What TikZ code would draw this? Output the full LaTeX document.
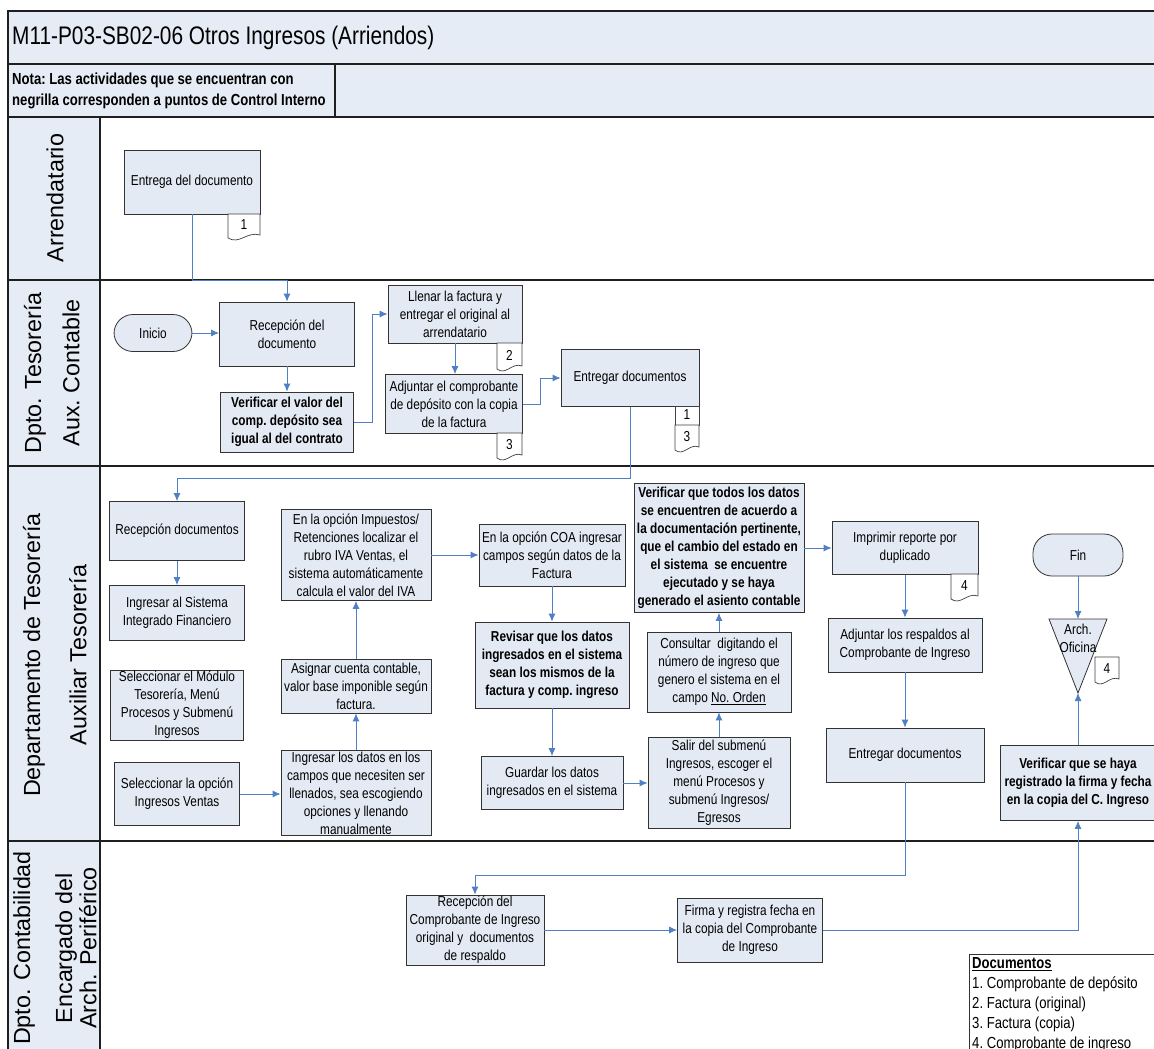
\documentclass[tikz,border=0pt]{standalone}
\usepackage{fontspec}
\setmainfont{Liberation Sans}
\newfontfamily\narrowfont{Liberation Sans}[FakeStretch=0.82]
\usetikzlibrary{arrows.meta}

\definecolor{bandfill}{HTML}{E6ECF5}
\definecolor{boxfill}{HTML}{E4EAF4}
\definecolor{flowblue}{HTML}{4F7FC4}
\definecolor{rulecol}{HTML}{1F1F1F}

\tikzset{
  lane/.style={draw=rulecol, line width=1.4pt},
  box/.style={draw=black!80, fill=boxfill, line width=0.8pt, align=center, inner sep=1pt,
    font=\narrowfont\frenchspacing\fontsize{14.4}{18}\selectfont},
  boldbox/.style={box, font=\narrowfont\frenchspacing\bfseries\fontsize{14.4}{18}\selectfont},
  terminal/.style={box, rounded corners=19pt},
  flow/.style={draw=flowblue, line width=0.9pt, -{Latex[length=8pt,width=7pt]}},
  tagshape/.style={draw=black!75, fill=white, line width=0.7pt},
  taglabel/.style={font=\narrowfont\fontsize{14.4}{16}\selectfont, inner sep=0pt},
  lanelabel/.style={rotate=90, font=\fontsize{23.3}{27}\selectfont, inner sep=0pt},
}

% document tag with a wavy lower edge: name, x1, y1, x2, y2, label
\newcommand\doctag[6]{%
  \path[tagshape] (#2,#3) -- (#4,#3) -- (#4,{#5-3})
    .. controls ({#2+0.6*(#4-#2)},{#5-7}) and ({#2+0.35*(#4-#2)},{#5+7}) .. (#2,#5) -- cycle;
  \node[taglabel] (#1) at ({(#2+#4)/2},{(#3+#5)/2-1}) {#6};
}

\begin{document}
\begin{tikzpicture}[x=1pt, y=-1pt]
\useasboundingbox (0,0) rectangle (1154,1049);
\clip (0,0) rectangle (1154,1049);

% ---- frame, header bands and swimlanes ----
\fill[white] (0,0) rectangle (1154,1049);
\fill[bandfill] (8,11) rectangle (1170,117);
\fill[bandfill] (8,117) rectangle (100,1070);
\draw[lane] (8,1070) -- (8,11) -- (1170,11);
\draw[lane] (8,64) -- (1170,64);
\draw[lane] (8,117) -- (1170,117);
\draw[lane] (8,280) -- (1170,280);
\draw[lane] (8,466) -- (1170,466);
\draw[lane] (8,841) -- (1170,841);
\draw[lane] (100,117) -- (100,1070);
\draw[lane] (335,64) -- (335,117);

\node[anchor=west, inner sep=0pt, font=\narrowfont\fontsize{25.4}{30}\selectfont] (title) at (12,38)
  {M11-P03-SB02-06 Otros Ingresos (Arriendos)};
\node[anchor=west, align=left, inner sep=0pt, font=\narrowfont\frenchspacing\bfseries\fontsize{16}{21}\selectfont] (nota) at (12,91)
  {Nota: Las actividades que se encuentran con\\negrilla corresponden a puntos de Control Interno};

\node[lanelabel] (lab1) at (55,198) {Arrendatario};
\node[lanelabel] (lab2a) at (35,373) {Dpto. Tesorería};
\node[lanelabel] (lab2b) at (71,373) {Aux.\ Contable};
\node[lanelabel] (lab3a) at (34,655) {Departamento de Tesorería};
\node[lanelabel] (lab3b) at (78,655) {Auxiliar Tesorería};
\node[lanelabel] (lab4a) at (24,948) {Dpto. Contabilidad};
\node[lanelabel] (lab4b) at (66,948) {Encargado del};
\node[lanelabel] (lab4c) at (88,948) {Arch. Periférico};

% ---- Arrendatario ----
\node[box, minimum width=136pt, minimum height=64pt] (ent) at (192,182) {Entrega del documento};
\doctag{t1}{228}{214}{260}{238}{1}

% ---- Aux. Contable ----
\node[terminal, minimum width=78pt, minimum height=37pt] (ini) at (153,333) {Inicio};
\node[box, minimum width=135pt, minimum height=64pt] (rec) at (287,334) {Recepción del\\documento};
\node[boldbox, minimum width=133pt, minimum height=60pt] (ver) at (287,422)
  {Verificar el valor del\\comp. depósito sea\\igual al del contrato};
\node[box, minimum width=134pt, minimum height=58pt] (llen) at (455,314)
  {Llenar la factura y\\entregar el original al\\arrendatario};
\doctag{t2}{497}{343}{522}{369}{2}
\node[box, minimum width=137pt, minimum height=59pt] (adj) at (454,404)
  {Adjuntar el comprobante\\de depósito con la copia\\de la factura};
\doctag{t3}{497}{433}{522}{458}{3}
\node[box, minimum width=138pt, minimum height=57pt] (entd) at (630,378) {Entregar documentos};
\path[tagshape] (675,406) rectangle (699,425);
\node[taglabel] (t1b) at (687,415) {1};
\doctag{t3b}{675}{425}{699}{450}{3}

% ---- Auxiliar Tesorería ----
\node[box, minimum width=135pt, minimum height=59pt] (recd) at (177,531) {Recepción documentos};
\node[box, minimum width=135pt, minimum height=55pt] (ing) at (177,613)
  {Ingresar al Sistema\\Integrado Financiero};
\node[box, minimum width=133pt, minimum height=70pt] (sel) at (177,705)
  {Seleccionar el Módulo\\Tesorería, Menú\\Procesos y Submenú\\Ingresos};
\node[box, minimum width=125pt, minimum height=63pt] (selop) at (177,794)
  {Seleccionar la opción\\Ingresos Ventas};
\node[box, minimum width=150pt, minimum height=91pt] (imp) at (356,555)
  {En la opción Impuestos/\\Retenciones localizar el\\rubro IVA Ventas, el\\sistema automáticamente\\calcula el valor del IVA};
\node[box, minimum width=150pt, minimum height=54pt] (asig) at (356,686)
  {Asignar cuenta contable,\\valor base imponible según\\factura.};
\node[box, minimum width=150pt, minimum height=85pt] (ingd) at (356,793)
  {Ingresar los datos en los\\campos que necesiten ser\\llenados, sea escogiendo\\opciones y llenando\\manualmente};
\node[box, minimum width=146pt, minimum height=62pt] (coa) at (552,555)
  {En la opción COA ingresar\\campos según datos de la\\Factura};
\node[boldbox, minimum width=154pt, minimum height=86pt] (rev) at (552,665)
  {Revisar que los datos\\ingresados en el sistema\\sean los mismos de la\\factura y comp. ingreso};
\node[box, minimum width=142pt, minimum height=53pt] (guar) at (552,783)
  {Guardar los datos\\ingresados en el sistema};
\node[box, minimum width=142pt, minimum height=91pt] (sal) at (719,783)
  {Salir del submenú\\Ingresos, escoger el\\menú Procesos y\\submenú Ingresos/\\Egresos};
\node[box, minimum width=144pt, minimum height=80pt] (cons) at (719,672)
  {Consultar~ digitando el\\número de ingreso que\\genero el sistema en el\\campo \underline{No. Orden}};
\node[boldbox, minimum width=170pt, minimum height=129pt] (vert) at (719,548)
  {Verificar que todos los datos\\se encuentren de acuerdo a\\la documentación pertinente,\\que el cambio del estado en\\el sistema~ se encuentre\\ejecutado y se haya\\generado el asiento contable};
\node[box, minimum width=146pt, minimum height=53pt] (impr) at (905,548)
  {Imprimir reporte por\\duplicado};
\doctag{t4}{951}{574}{978}{599}{4}
\node[box, minimum width=154pt, minimum height=54pt] (adjr) at (905,645)
  {Adjuntar los respaldos al\\Comprobante de Ingreso};
\node[box, minimum width=158pt, minimum height=54pt] (entd2) at (905,755) {Entregar documentos};
\node[terminal, minimum width=90pt, minimum height=42pt] (fin) at (1078,555) {Fin};
\path[draw=black!80, fill=boxfill, line width=0.8pt] (1049,619) -- (1107,619) -- (1078,693) -- cycle;
\coordinate (archtop) at (1078,619);
\coordinate (archbot) at (1078,693);
\node[align=center, inner sep=0pt, font=\narrowfont\fontsize{14.4}{18}\selectfont] (arch) at (1078,638) {Arch.\\Oficina};
\doctag{t4b}{1095}{657}{1119}{682}{4}
\node[boldbox, minimum width=156pt, minimum height=75pt] (verf) at (1078,783)
  {Verificar que se haya\\registrado la firma y fecha\\en la copia del C. Ingreso};

% ---- Arch. Periférico ----
\node[box, minimum width=138pt, minimum height=70pt] (recc) at (475,930)
  {Recepción del\\Comprobante de Ingreso\\original y~ documentos\\de respaldo};
\node[box, minimum width=145pt, minimum height=64pt] (firma) at (750,930)
  {Firma y registra fecha en\\la copia del Comprobante\\de Ingreso};

% document list
\path[draw=black!80, fill=white, line width=0.8pt] (969,954) rectangle (1170,1070);
\node[anchor=north west, align=left, inner sep=0pt,
  font=\narrowfont\frenchspacing\fontsize{16}{20}\selectfont] (docs) at (972,957)
  {\textbf{\underline{Documentos}}\\1. Comprobante de depósito\\2. Factura (original)\\3. Factura (copia)\\4. Comprobante de ingreso};

% ---- connectors ----
\coordinate (h280) at (0,280);
\coordinate (h478) at (0,478);
\coordinate (h875) at (0,875);
\coordinate (v372) at (372,0);
\coordinate (v540) at (540,0);

\draw[flow] (ent.south) -- (ent.south |- h280) -| (rec.north);
\draw[flow] (ini.east) -- (ini.east -| rec.west);
\draw[flow] (rec.south) -- (rec.south |- ver.north);
\draw[flow] (ver.east) -- (ver.east -| v372) |- (llen.west);
\draw[flow] (llen.south) -- (llen.south |- adj.north);
\draw[flow] (adj.east) -- (adj.east -| v540) |- (entd.west);
\draw[flow] (entd.south) -- (entd.south |- h478) -| (recd.north);
\draw[flow] (recd.south) -- (ing.north);
\draw[flow] (selop.east) -- (selop.east -| ingd.west);
\draw[flow] (ingd.north) -- (asig.south);
\draw[flow] (asig.north) -- (imp.south);
\draw[flow] (imp.east) -- (imp.east -| coa.west);
\draw[flow] (coa.south) -- (rev.north);
\draw[flow] (rev.south) -- (guar.north);
\draw[flow] (guar.east) -- (guar.east -| sal.west);
\draw[flow] (sal.north) -- (cons.south);
\draw[flow] (cons.north) -- (vert.south);
\draw[flow] (vert.east) -- (vert.east -| impr.west);
\draw[flow] (impr.south) -- (adjr.north);
\draw[flow] (adjr.south) -- (entd2.north);
\draw[flow] (entd2.south) -- (entd2.south |- h875) -| (recc.north);
\draw[flow] (recc.east) -- (recc.east -| firma.west);
\draw[flow] (firma.east) -| (verf.south);
\draw[flow] (verf.north) -- (archbot);
\draw[flow] (fin.south) -- (archtop);
\end{tikzpicture}
\end{document}
